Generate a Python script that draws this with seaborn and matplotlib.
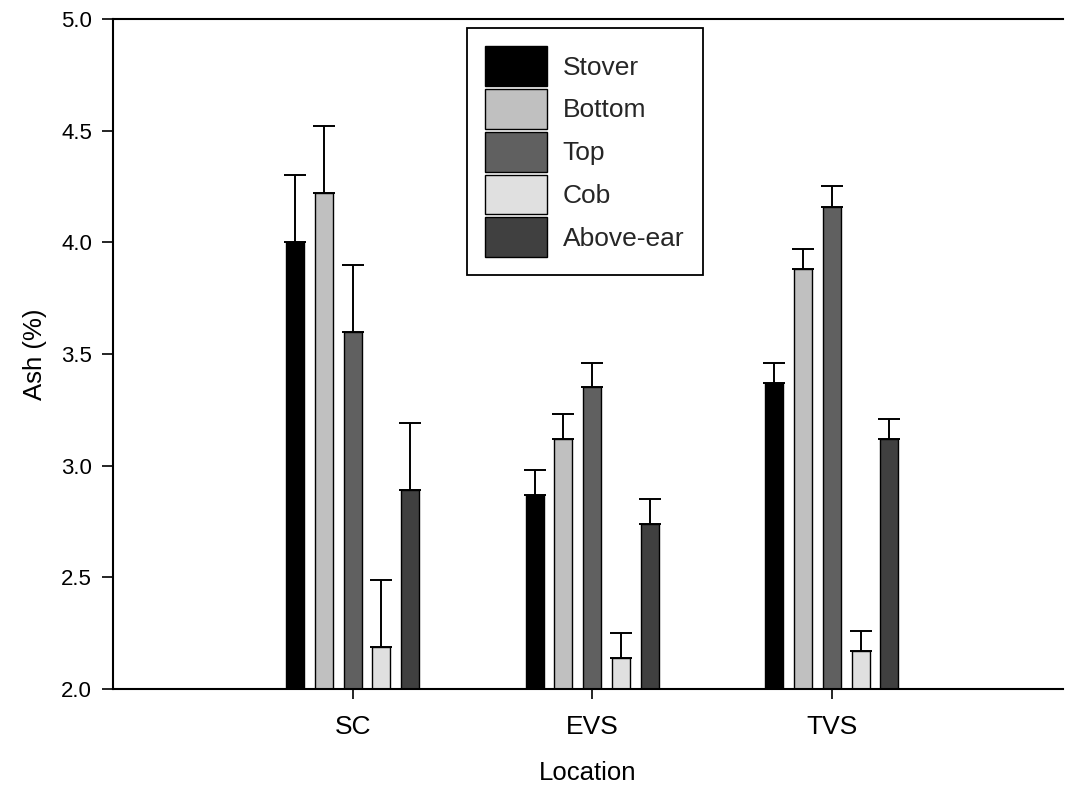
import matplotlib
matplotlib.use("Agg")
import matplotlib.pyplot as plt
import matplotlib.patches as mpatches
from matplotlib.ticker import FormatStrFormatter
import numpy as np
import pandas as pd
import seaborn as sns

# Ash content (%) of corn stover fractions at three locations
locations = ["SC", "EVS", "TVS"]
parts = ["Stover", "Bottom", "Top", "Cob", "Above-ear"]
stover = [4.00, 2.87, 3.37]
bottom = [4.22, 3.12, 3.88]
top = [3.60, 3.35, 4.16]
cob = [2.19, 2.14, 2.17]
above_ear = [2.89, 2.74, 3.12]
# pooled standard error per location
sem = [0.30, 0.11, 0.09]
y_ticks = [2.0, 2.5, 3.0, 3.5, 4.0, 4.5, 5.0]
colors = ["#000000", "#c0c0c0", "#606060", "#e0e0e0", "#404040"]

series = dict(zip(parts, [stover, bottom, top, cob, above_ear]))
rows = []
for part in parts:
    for loc, val, err in zip(locations, series[part], sem):
        rows.append({"Location": loc, "Part": part, "Ash": val, "SE": err})
df = pd.DataFrame(rows)

sns.set_theme(style="ticks")
plt.rcParams["font.family"] = ["Liberation Sans", "DejaVu Sans"]

fig = plt.figure(figsize=(10.65, 7.87), dpi=100)
ax = fig.add_axes([113 / 1065, 1 - 689 / 787, (1063 - 113) / 1065, (689 - 19) / 787])

palette = dict(zip(parts, colors))
sns.barplot(data=df, x="Location", y="Ash", hue="Part", order=locations,
            hue_order=parts, palette=palette, width=0.6, gap=0.375,
            edgecolor="black", linewidth=1.0, errorbar=None, saturation=1,
            legend=False, ax=ax)

# upper-only error bars on top of each bar
for container, part in zip(ax.containers, parts):
    sub = df[df["Part"] == part].set_index("Location").loc[locations]
    xs = [b.get_x() + b.get_width() / 2 for b in container]
    ys = [b.get_height() for b in container]
    errs = sub["SE"].to_numpy()
    ax.errorbar(xs, ys, yerr=[np.zeros(len(errs)), errs], fmt="none",
                ecolor="black", elinewidth=1.4, capsize=7.9, capthick=1.4,
                zorder=3)

ax.set_xlim(-1.0, 2.965)
ax.set_ylim(2.0, 5.0)
ax.set_yticks(y_ticks)
ax.yaxis.set_major_formatter(FormatStrFormatter("%.1f"))

for side in ["left", "top", "bottom"]:
    ax.spines[side].set_linewidth(1.5)
    ax.spines[side].set_color("black")
ax.spines["right"].set_visible(False)

ax.tick_params(axis="y", direction="out", length=8, width=1.2,
               labelsize=16, pad=7, colors="black")
ax.tick_params(axis="x", direction="out", length=7, width=1.2,
               labelsize=19, pad=12, colors="black")
ax.tick_params(top=False, right=False)

ax.set_xlabel("Location", fontsize=18.5, labelpad=15.5, color="black")
ax.set_ylabel("Ash (%)", fontsize=18.5, labelpad=10, color="black")

handles = [mpatches.Patch(facecolor=c, edgecolor="black", linewidth=1.0)
           for c in colors]
leg = ax.legend(handles, parts, loc="upper left",
                bbox_to_anchor=(467 / 1065, 1 - 28 / 787),
                bbox_transform=fig.transFigure, borderaxespad=0,
                fontsize=19, handlelength=2.35, handleheight=1.93,
                labelspacing=0.12, handletextpad=0.58, borderpad=0.7,
                fancybox=False, framealpha=1, shadow=False)
leg.get_frame().set_edgecolor("black")
leg.get_frame().set_linewidth(1.3)

fig.savefig("out.png", dpi=100, facecolor="white")
